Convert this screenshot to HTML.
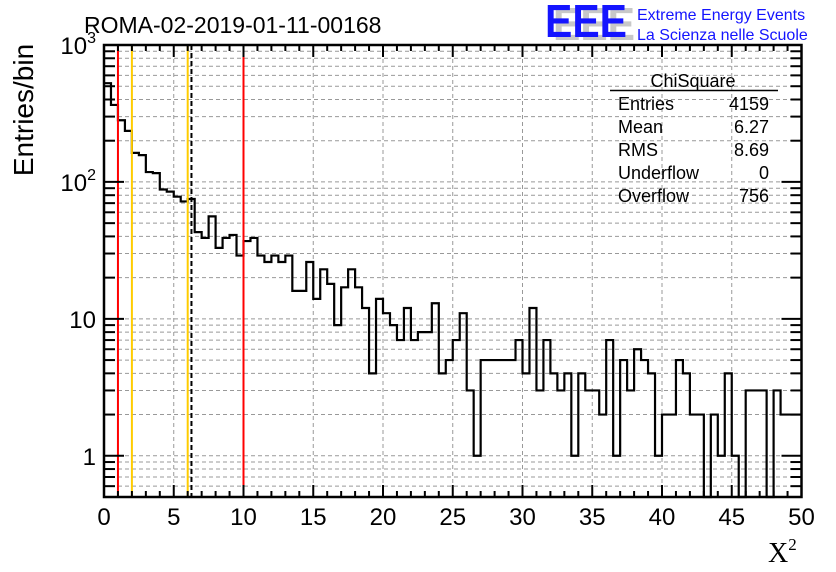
<!DOCTYPE html>
<html><head><meta charset="utf-8"><style>
html,body{margin:0;padding:0;background:#fff;}
svg{display:block;font-family:"Liberation Sans",sans-serif;}
</style></head><body>
<svg id="chart" width="836" height="572" viewBox="0 0 836 572" xmlns="http://www.w3.org/2000/svg">
<rect x="0" y="0" width="836" height="572" fill="#fff"/>
<g id="grid"></g>
<g id="marks"></g>
<g id="axes"></g>
<text x="84" y="33" font-size="23">ROMA-02-2019-01-11-00168</text>
<text x="0" y="0" font-size="28" text-anchor="middle" transform="translate(33,110) rotate(-90)">Entries/bin</text>
<text x="768" y="562" font-size="28" font-family="Liberation Serif,serif">X<tspan font-size="17" dy="-12">2</tspan></text>
<g>
<text x="553" y="40" font-size="46" font-weight="bold" fill="#c8c8c8" textLength="82" lengthAdjust="spacingAndGlyphs">EEE</text>
<text x="545" y="37" font-size="46" font-weight="bold" fill="#1414ff" textLength="82" lengthAdjust="spacingAndGlyphs">EEE</text>
<text x="637" y="20" font-size="16" fill="#1414ff">Extreme Energy Events</text>
<text x="637" y="40" font-size="16" fill="#1414ff">La Scienza nelle Scuole</text>
</g>
<g font-size="18">
<text x="693" y="87" text-anchor="middle">ChiSquare</text>
<line x1="610" y1="90.5" x2="778" y2="90.5" stroke="#000" stroke-width="1.5"/>
<text x="618" y="110">Entries</text><text x="769" y="110" text-anchor="end">4159</text>
<text x="618" y="133">Mean</text><text x="769" y="133" text-anchor="end">6.27</text>
<text x="618" y="156">RMS</text><text x="769" y="156" text-anchor="end">8.69</text>
<text x="618" y="179">Underflow</text><text x="769" y="179" text-anchor="end">0</text>
<text x="618" y="202">Overflow</text><text x="769" y="202" text-anchor="end">756</text>
</g>
</svg>
<script>
var counts = [526,365,282,236,163,157,118,116,88,85,78,72,75,43,39,56,33,39,41,29,
37,39,29,26,29,26,29,16,16,26,14,23,18,9,17,23,17,12,4,14,
11,9,7,12,7,8,8,13,4,5,7,11,3,1,5,5,5,5,5,7,
4,12,3,7,4,3,4,1,4,3,3,2,7,1,5,3,6,5,4,1,
2,2,5,4,2,2,0,2,1,4,1,0,3,3,3,0,3,2,2,2];
var binEdges = [0, 50];
var xTickLabels = ["0","5","10","15","20","25","30","35","40","45","50"];
var yDecades = [1, 10, 100, 1000];
var yTickLabels = ["1","10","10²","10³"];
var redLines = [1, 10];
var orangeLines = [2, 6];
var meanLine = [6.27];

var X0=104, X1=801.5, YT=45, YB=497;
var XMIN=0, XMAX=50, YMIN=0.5, YMAX=1000;
function sx(v){return X0+(v-XMIN)/(XMAX-XMIN)*(X1-X0);}
function sy(v){var l=Math.log10(Math.max(v,1e-3));var r=(Math.log10(YMAX)-l)/(Math.log10(YMAX)-Math.log10(YMIN));return Math.min(YB,YT+r*(YB-YT));}
var NS="http://www.w3.org/2000/svg";
function mk(p,tag,attrs){var e=document.createElementNS(NS,tag);for(var k in attrs)e.setAttribute(k,attrs[k]);p.appendChild(e);return e;}
var grid=document.getElementById('grid'),marks=document.getElementById('marks'),axes=document.getElementById('axes');

for(var d=0.1;d<=1000;d*=10){for(var m=1;m<=9;m++){var v=d*m;if(v<YMIN||v>YMAX*0.999)continue;var y=sy(v);
var g=mk(grid,'line',{x1:X0,x2:X1,y1:y,y2:y,stroke:'#999','stroke-dasharray':'4,3','stroke-width':1});

}}
for(var i=1;i<xTickLabels.length-1;i++){var x=sx(+xTickLabels[i]);
var g=mk(grid,'line',{x1:x,x2:x,y1:YT,y2:YB,stroke:'#999','stroke-dasharray':'4,3','stroke-width':1});

}

var bw=(binEdges[1]-binEdges[0])/counts.length;
var d='M'+sx(0)+','+sy(counts[0]);
for(var i=0;i<counts.length;i++){var y=counts[i]>0?sy(counts[i]):YB;
d+=' L'+sx(i*bw)+','+y+' L'+sx((i+1)*bw)+','+y;}
var h=mk(marks,'path',{d:d,fill:'none',stroke:'#000','stroke-width':2.2});



function vline(v,col,dash,name){var a={x1:sx(v),x2:sx(v),y1:YT,y2:YB,stroke:col,'stroke-width':2};if(dash)a['stroke-dasharray']=dash;var l=mk(marks,'line',a);

}
redLines.forEach(function(v){vline(v,'#ff0000',null,'red-threshold-line');});
orangeLines.forEach(function(v){vline(v,'#ffcc00',null,'orange-threshold-line');});
meanLine.forEach(function(v){vline(v,'#000','5,3','mean-line');});

var f=mk(axes,'rect',{x:X0,y:YT,width:X1-X0,height:YB-YT,fill:'none',stroke:'#000','stroke-width':2.5});


for(var v=0;v<=50;v++){var x=sx(v);var L=(v%5==0)?12:6;
mk(axes,'line',{x1:x,x2:x,y1:YB,y2:YB-L,stroke:'#000','stroke-width':2});
mk(axes,'line',{x1:x,x2:x,y1:YT,y2:YT+L,stroke:'#000','stroke-width':2});}
xTickLabels.forEach(function(t){var tx=mk(axes,'text',{x:sx(+t),y:YB+28,'font-size':24,'text-anchor':'middle'});tx.textContent=t;

});
for(var dd=0.1;dd<=1000;dd*=10){for(var m=1;m<=9;m++){var v=dd*m;if(v<YMIN||v>YMAX*1.001)continue;var y=sy(v);var L=(m==1)?20:11;
mk(axes,'line',{x1:X0,x2:X0+L,y1:y,y2:y,stroke:'#000','stroke-width':2});
mk(axes,'line',{x1:X1,x2:X1-L,y1:y,y2:y,stroke:'#000','stroke-width':2});}}
yDecades.forEach(function(v,i){var t=yTickLabels[i];var tx=mk(axes,'text',{x:96,y:sy(v)+9,'font-size':24,'text-anchor':'end'});
if(t.length>2){tx.textContent=t.slice(0,2);var ts=mk(tx,'tspan',{'font-size':16,dy:-11});ts.textContent=(t.slice(2)=='²')?'2':'3';}
else tx.textContent=t;

});
</script>
</body></html>
